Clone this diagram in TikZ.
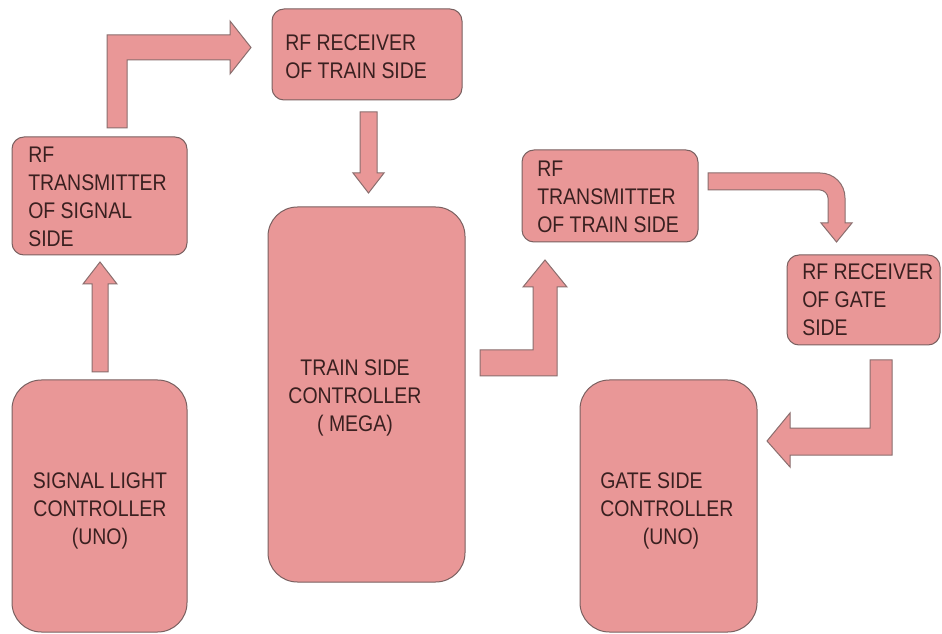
\documentclass[tikz,border=0pt]{standalone}
\usepackage{fontspec}
\usepackage{graphicx}
\setmainfont{Liberation Sans}
\usetikzlibrary{fit}
\definecolor{boxfill}{HTML}{E99797}
\definecolor{boxline}{HTML}{7A6060}
\definecolor{arrline}{HTML}{8A6E6E}
\definecolor{textc}{HTML}{3A2020}
\newcommand{\tallblock}[2]{\scalebox{1}[1.16]{\begin{tabular}{@{}#1@{}}#2\end{tabular}}}
\tikzset{
  smallbox/.style={draw=boxline, fill=boxfill, line width=0.75pt, rounded corners=9pt, inner sep=0pt},
  bigbox/.style={draw=boxline, fill=boxfill, line width=0.75pt, rounded corners=22pt, inner sep=0pt},
  txt/.style={inner sep=0pt, text=textc, font=\fontsize{14.6}{18.1}\selectfont},
  blockarrow/.style={draw=arrline, fill=boxfill, line width=0.75pt, line join=miter}
}
\begin{document}
\begin{tikzpicture}[x=0.75pt, y=-0.75pt]
\useasboundingbox[fill=white] (0,0) rectangle (942,634);

% boxes
\node[smallbox, fit={(12,137) (187,255)}] (b1) {};
\node[smallbox, fit={(272,9) (462,100)}] (b2) {};
\node[bigbox, fit={(268,207) (465,582)}] (b3) {};
\node[bigbox, fit={(12,380) (187,632)}] (b4) {};
\node[smallbox, fit={(522,150) (698,242)}] (b5) {};
\node[smallbox, fit={(787,255) (940,345)}] (b6) {};
\node[bigbox, fit={(580,380) (757,632)}] (b7) {};

% texts
\node[txt, anchor=west] (t1) at (28,198.5) {\tallblock{l}{RF\\TRANSMITTER\\OF SIGNAL\\SIDE}};
\node[txt, anchor=west] (t2) at (285,58.5) {\tallblock{l}{RF RECEIVER\\OF TRAIN SIDE}};
\node[txt] (t3) at (355,397.5) {\tallblock{c}{TRAIN SIDE\\CONTROLLER\\( MEGA)}};
\node[txt] (t4) at (100,510.5) {\tallblock{c}{SIGNAL LIGHT\\CONTROLLER\\(UNO)}};
\node[txt, anchor=west] (t5) at (537,199) {\tallblock{l}{RF\\TRANSMITTER\\OF TRAIN SIDE}};
\node[txt, anchor=west] (t6) at (802,301.5) {\tallblock{l}{RF RECEIVER\\OF GATE\\SIDE}};
\node[txt, anchor=west] (t7) at (600,510.5) {\tallblock{l}{GATE SIDE\\CONTROLLER\\\hspace*{32pt}(UNO)}};

% block arrows
% signal light controller -> RF transmitter of signal side
\path[blockarrow] (92,372) -- (92,284) -- (83,284) -- (100,262) -- (117,284) -- (108,284) -- (108,372) -- cycle;
% RF transmitter of signal side -> RF receiver of train side
\path[blockarrow] (107,128) -- (107,35) -- (230,35) -- (230,21) -- (251,47.5) -- (230,74) -- (230,60) -- (127,60) -- (127,128) -- cycle;
% RF receiver of train side -> train side controller
\path[blockarrow] (360,112) -- (377,112) -- (377,173) -- (384,173) -- (368.5,193) -- (353,173) -- (360,173) -- cycle;
% train side controller -> RF transmitter of train side
\path[blockarrow] (480,376) -- (480,350) -- (533,350) -- (533,287) -- (523,287) -- (545,260) -- (567,287) -- (557,287) -- (557,376) -- cycle;
% RF transmitter of train side -> RF receiver of gate side
\path[blockarrow] (708,173) -- (820,173) .. controls (834,173) and (845,184) .. (845,198) -- (845,223) -- (852,223) -- (836.5,242) -- (821,223) -- (828,223) -- (828,198) .. controls (828,194) and (824,190) .. (820,190) -- (708,190) -- cycle;
% RF receiver of gate side -> gate side controller
\path[blockarrow] (870,360) -- (892,360) -- (892,455) -- (790,455) -- (790,467) -- (767,441) -- (790,413) -- (790,428) -- (870,428) -- cycle;
\end{tikzpicture}
\end{document}
